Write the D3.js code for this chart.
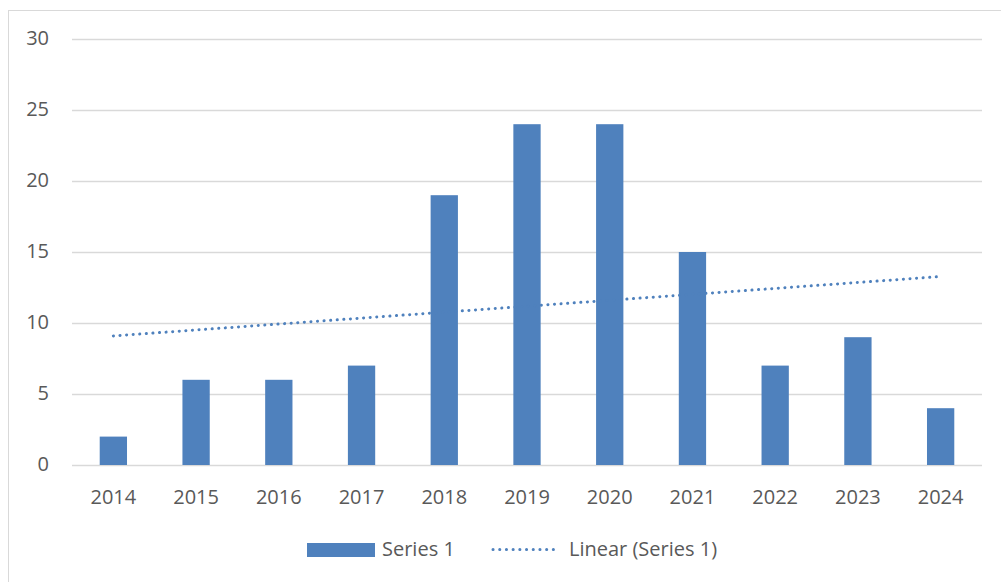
<!DOCTYPE html>
<html>
<head>
<meta charset="utf-8">
<script src="https://cdn.jsdelivr.net/npm/d3@7"></script>
<style>
  body { margin: 0; background: #fff; }
  svg text { font-family: "Open Sans", "Noto Sans", sans-serif; fill: #595959; }
</style>
</head>
<body>
<div id="chart"></div>
<script>
const years = ['2014', '2015', '2016', '2017', '2018', '2019', '2020', '2021', '2022', '2023', '2024'];
const counts = [2, 6, 6, 7, 19, 24, 24, 15, 7, 9, 4];
const yTicks = [0, 5, 10, 15, 20, 25, 30];

const width = 1001, height = 582;
const margin = { top: 39, right: 19, bottom: 117, left: 72 };
const color = '#4f81bd';

const svg = d3.select('#chart').append('svg')
  .attr('width', width)
  .attr('height', height);

// chart border
svg.append('rect')
  .attr('x', 8.5).attr('y', 10.5)
  .attr('width', 1010).attr('height', 600)
  .attr('fill', 'none')
  .attr('stroke', '#d9d9d9');

const x = d3.scaleBand()
  .domain(years)
  .range([margin.left, width - margin.right])
  .paddingInner(0.67)
  .paddingOuter(0.335);

const y = d3.scaleLinear()
  .domain([0, 30])
  .range([height - margin.bottom, margin.top]);

// gridlines
svg.append('g')
  .selectAll('line')
  .data(yTicks)
  .enter().append('line')
  .attr('x1', margin.left)
  .attr('x2', width - margin.right)
  .attr('y1', d => Math.round(y(d)) + 0.5)
  .attr('y2', d => Math.round(y(d)) + 0.5)
  .attr('stroke', '#d9d9d9')
  .attr('stroke-width', 1.3);

// y labels
svg.append('g')
  .selectAll('text')
  .data(yTicks)
  .enter().append('text')
  .attr('x', 49)
  .attr('y', d => y(d) - 1)
  .attr('dy', '0.35em')
  .attr('text-anchor', 'end')
  .style('font-size', '20px')
  .text(d => d);

// bars
svg.append('g')
  .selectAll('rect')
  .data(counts)
  .enter().append('rect')
  .attr('x', (d, i) => x(years[i]))
  .attr('width', x.bandwidth())
  .attr('y', d => y(d))
  .attr('height', d => y(0) - y(d))
  .attr('fill', color);

// x labels
svg.append('g')
  .selectAll('text')
  .data(years)
  .enter().append('text')
  .attr('x', d => x(d) + x.bandwidth() / 2)
  .attr('y', y(0) + 39)
  .attr('text-anchor', 'middle')
  .style('font-size', '20px')
  .text(d => d);

// linear trendline (least squares over the bar values)
const idx = counts.map((d, i) => i + 1);
const mx = d3.mean(idx), my = d3.mean(counts);
const slope = d3.sum(idx, (v, i) => (v - mx) * (counts[i] - my)) / d3.sum(idx, v => (v - mx) * (v - mx));
const icpt = my - slope * mx;
const cx = d => x(d) + x.bandwidth() / 2;

svg.append('line')
  .attr('x1', cx(years[0]))
  .attr('x2', cx(years[years.length - 1]))
  .attr('y1', y(icpt + slope * 1))
  .attr('y2', y(icpt + slope * years.length))
  .attr('stroke', color)
  .attr('stroke-width', 3)
  .attr('stroke-linecap', 'round')
  .attr('stroke-dasharray', '0.1 6.5');

// legend
const legend = svg.append('g');
legend.append('rect')
  .attr('x', 307).attr('y', 543)
  .attr('width', 68).attr('height', 14)
  .attr('fill', color);
legend.append('text')
  .attr('x', 382).attr('y', 549)
  .attr('dy', '0.35em')
  .style('font-size', '20px')
  .text('Series 1');
legend.append('line')
  .attr('x1', 493).attr('x2', 559)
  .attr('y1', 549.5).attr('y2', 549.5)
  .attr('stroke', color)
  .attr('stroke-width', 3)
  .attr('stroke-linecap', 'round')
  .attr('stroke-dasharray', '0.1 6.6');
legend.append('text')
  .attr('x', 569).attr('y', 549)
  .attr('dy', '0.35em')
  .style('font-size', '20px')
  .text('Linear (Series 1)');
</script>
</body>
</html>
